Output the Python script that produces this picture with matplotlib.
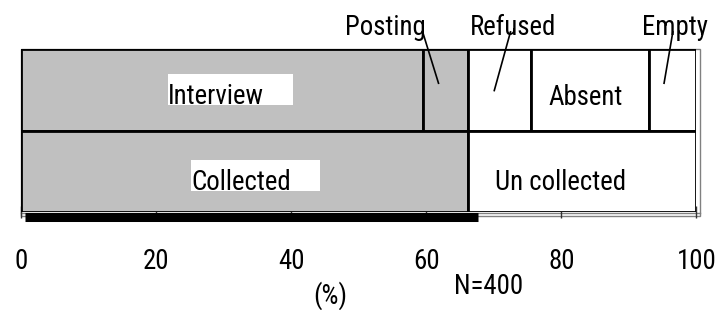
import matplotlib
matplotlib.use("Agg")
import matplotlib.pyplot as plt
from matplotlib import font_manager
from matplotlib.patches import Rectangle
import numpy as np

# ---- data ----
top_labels = ["Interview", "Posting", "Refused", "Absent", "Empty"]
top_values = [59.5, 6.75, 9.25, 17.5, 7.0]
top_colors = ["#c0c0c0", "#c0c0c0", "white", "white", "white"]

bottom_labels = ["Collected", "Un collected"]
bottom_values = [66.25, 33.75]
bottom_colors = ["#c0c0c0", "white"]

xticks = [0, 20, 40, 60, 80, 100]
xlabel = "(%)"
note = "N=400"

# ---- font ----
names = {f.name for f in font_manager.fontManager.ttflist}
FONT = "Liberation Sans"
for cand in ["Liberation Sans Narrow", "Arial Narrow", "Roboto Condensed", "Archivo Narrow",
             "PT Sans Narrow", "Liberation Sans"]:
    if cand in names:
        FONT = cand
        break
plt.rcParams["font.family"] = [FONT, "DejaVu Sans"]

fig = plt.figure(figsize=(7.18, 3.10), dpi=100)

# size the font so that "Interview" is ~96 px wide, as in the reference
r = fig.canvas.get_renderer()
probe = fig.text(0, 0, "Interview", fontsize=20)
w20 = probe.get_window_extent(r).width
probe.remove()
FS = 20 * 96.0 / w20

ax = fig.add_axes([20.7 / 718, 1 - 212 / 310, (696.5 - 20.7) / 718, (212 - 49) / 310])
ax.set_xlim(0, 100)
ax.set_ylim(0, 2)

# bars
top_left = np.concatenate([[0], np.cumsum(top_values)[:-1]])
ax.barh([1.5] * len(top_values), top_values, left=top_left, height=1.0,
        color=top_colors, edgecolor="black", linewidth=2, zorder=2)
bot_left = np.concatenate([[0], np.cumsum(bottom_values)[:-1]])
ax.barh([0.5] * len(bottom_values), bottom_values, left=bot_left, height=1.0,
        color=bottom_colors, edgecolor="black", linewidth=2, zorder=2)

for s in ax.spines.values():
    s.set_visible(False)

# shadow frame (gray double line) and thick black base line
ax.add_patch(Rectangle((0, -0.05), 100.45, 2.05, transform=ax.transData,
                       fill=False, edgecolor="#808080", linewidth=1, clip_on=False, zorder=1))
ax.plot([0, 100.45], [-0.015, -0.015], color="#808080", lw=1, clip_on=False, zorder=1)
ax.plot([0.6, bottom_values[0] + 1.4], [-0.06, -0.06], color="black", lw=6.5,
        solid_capstyle="butt", clip_on=False, zorder=3)

ax.set_yticks([])
ax.set_xticks(xticks)
ax.set_xticklabels([str(t) for t in xticks], fontsize=FS)
ax.tick_params(axis="x", direction="inout", length=8, width=1, color="#333333", pad=22)

# inside labels
tl_centers = top_left + np.array(top_values) / 2
bl_centers = bot_left + np.array(bottom_values) / 2
t1 = ax.text(tl_centers[0] - 0.9, 1.32, top_labels[0], ha="center", va="baseline", fontsize=FS, zorder=5)
t2 = ax.text(tl_centers[3] - 0.7, 1.31, top_labels[3], ha="center", va="baseline", fontsize=FS, zorder=5)
t3 = ax.text(bl_centers[0] - 0.5, 0.27, bottom_labels[0], ha="center", va="baseline", fontsize=FS, zorder=5)
t4 = ax.text(bl_centers[1] - 3.2, 0.27, bottom_labels[1], ha="center", va="baseline", fontsize=FS, zorder=5)

# outside annotations with leader lines
ann = [(1, -8.85, -3.4, -1.05, 1.58), (2, 2.05, 1.6, -0.8, 1.49), (4, 0.3, 0.0, -1.3, 1.58)]
for idx, dx_text, dx_start, dx_end, y_end in ann:
    c = tl_centers[idx]
    ax.text(c + dx_text, 2.17, top_labels[idx], ha="center", va="baseline", fontsize=FS, clip_on=False)
    ax.plot([c + dx_start, c + dx_end], [2.21, y_end], color="black", lw=1.2, clip_on=False, zorder=4)

fig.text(330 / 718, 1 - 296 / 310, xlabel, ha="center", va="center", fontsize=FS)
fig.text(489 / 718, 1 - 287 / 310, note, ha="center", va="center", fontsize=FS)

# white boxes behind Interview and Collected (text top to baseline, extended right)
fig.canvas.draw()
r = fig.canvas.get_renderer()
inv = ax.transData.inverted()
for t in (t1, t3):
    bb = t.get_window_extent(r)
    x0, x1 = bb.x0, bb.x1 + 29
    _, yb = ax.transData.transform((0, t.get_position()[1]))
    (dx0, dy0) = inv.transform((x0, yb - 1))
    (dx1, dy1) = inv.transform((x1, yb + 30))
    ax.add_patch(Rectangle((dx0, dy0), dx1 - dx0, dy1 - dy0, facecolor="white",
                           edgecolor="none", zorder=4))

fig.savefig("out.png", dpi=100)
